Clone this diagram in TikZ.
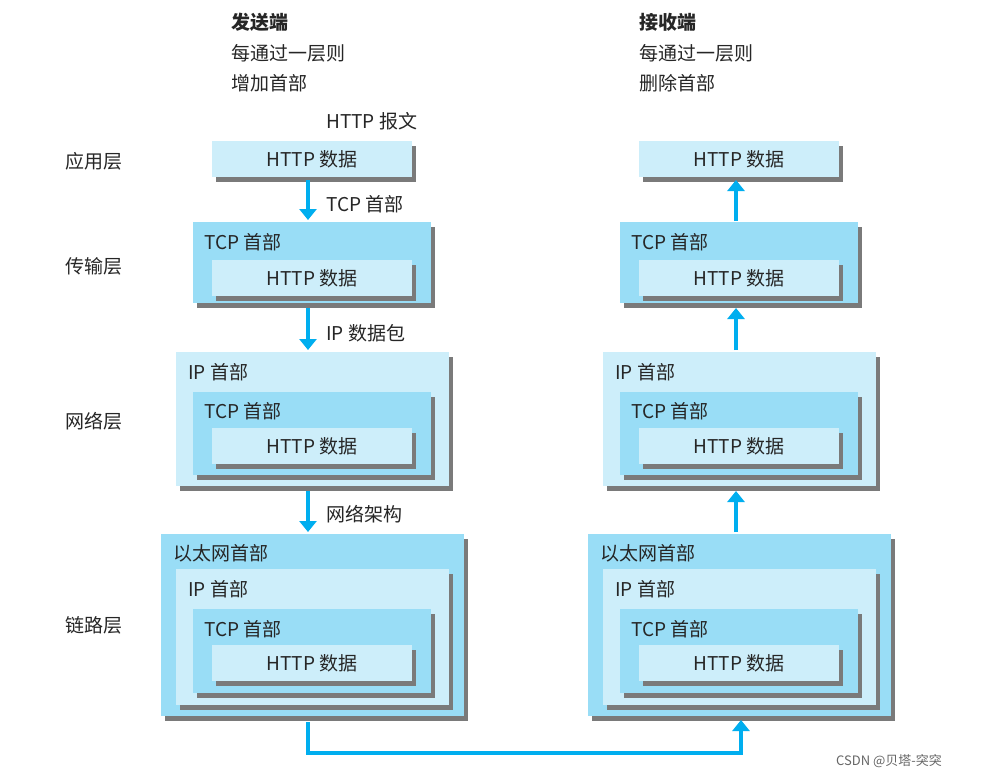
\documentclass[tikz,border=0pt]{standalone}
\usepackage{fontspec}
\setmainfont{Noto Sans CJK SC}
\usetikzlibrary{arrows.meta}
\definecolor{dk}{HTML}{99DDF6}
\definecolor{lt}{HTML}{CDEEFA}
\definecolor{ar}{HTML}{00AEEF}
\definecolor{sh}{HTML}{7A7A7A}
\newcommand{\bx}[6]{%
  \fill[sh] (#2+4,#3+5) rectangle (#4+4,#5+5);
  \fill[#6] (#2,#3) rectangle (#4,#5);
  \coordinate (#1) at (#2,#3);}
\begin{document}
\begin{tikzpicture}[x=1pt,y=-1pt,
  t/.style={font=\fontsize{19}{22}\selectfont,text=black!85,inner sep=0pt,anchor=west},
  arr/.style={ar,line width=4.5pt,-{Triangle[length=11pt,width=17pt]}}]
\useasboundingbox (0,0) rectangle (1005,780);
\fill[white] (0,0) rectangle (1005,780);
% titles
\node[t,font=\fontsize{19}{22}\selectfont\bfseries] (s1) at (231,22) {发送端};
\node[t] (s2) at (231,53) {每通过一层则};
\node[t] (s3) at (231,83) {增加首部};
\node[t,font=\fontsize{19}{22}\selectfont\bfseries] (r1) at (639,22) {接收端};
\node[t] (r2) at (639,53) {每通过一层则};
\node[t] (r3) at (639,83) {删除首部};
\node[t] (l1) at (65,161) {应用层};
\node[t] (l2) at (65,266) {传输层};
\node[t] (l3) at (65,421) {网络层};
\node[t] (l4) at (65,625) {链路层};
\node[t] (hb) at (326,121) {HTTP 报文};
\foreach \o/\s in {0/L,427/R}{
  % app
  \ifnum\o=0\relax\fi
  \bx{a\s}{212+\o}{141}{412+\o}{177}{lt}
  \node[t,anchor=center] (ah\s) at (312+\o,159) {HTTP 数据};
  % transport
  \bx{t\s}{193+\o}{222}{431+\o}{303}{dk}
  \node[t] (tt\s) at (204+\o,242) {TCP 首部};
  \bx{th\s}{212+\o}{260}{412+\o}{296}{lt}
  \node[t,anchor=center] (thh\s) at (312+\o,278) {HTTP 数据};
  % network
  \bx{n\s}{176+\o}{352}{449+\o}{486}{lt}
  \node[t] (ni\s) at (188+\o,372) {IP 首部};
  \bx{nt\s}{193+\o}{392}{431+\o}{475}{dk}
  \node[t] (ntt\s) at (204+\o,411) {TCP 首部};
  \bx{nh\s}{212+\o}{428}{412+\o}{464}{lt}
  \node[t,anchor=center] (nhh\s) at (312+\o,446) {HTTP 数据};
  % link
  \bx{k\s}{161+\o}{534}{464+\o}{716}{dk}
  \node[t] (ke\s) at (173+\o,553) {以太网首部};
  \bx{ki\s}{176+\o}{569}{449+\o}{705}{lt}
  \node[t] (kii\s) at (188+\o,589) {IP 首部};
  \bx{kt\s}{193+\o}{609}{431+\o}{693}{dk}
  \node[t] (ktt\s) at (204+\o,629) {TCP 首部};
  \bx{kh\s}{212+\o}{645}{412+\o}{681}{lt}
  \node[t,anchor=center] (khh\s) at (312+\o,663) {HTTP 数据};
}
% left arrows
\coordinate (p1) at (308,180); \coordinate (p2) at (308,220);
\coordinate (p3) at (308,308); \coordinate (p4) at (308,350);
\coordinate (p5) at (308,491); \coordinate (p6) at (308,532);
\draw[arr] (p1) -- (p2);
\draw[arr] (p3) -- (p4);
\draw[arr] (p5) -- (p6);
\node[t] (x1) at (326,204) {TCP 首部};
\node[t] (x2) at (326,333) {IP 数据包};
\node[t] (x3) at (326,514) {网络架构};
% right arrows
\coordinate (q1) at (736,221); \coordinate (q2) at (736,180);
\coordinate (q3) at (736,350); \coordinate (q4) at (736,308);
\coordinate (q5) at (736,532); \coordinate (q6) at (736,491);
\draw[arr] (q1) -- (q2);
\draw[arr] (q3) -- (q4);
\draw[arr] (q5) -- (q6);
% bottom connector
\coordinate (b1) at (308,722); \coordinate (b2) at (741,720);
\draw[arr] (b1) |- (741,753) -- (b2);
\node[t,font=\fontsize{13}{15}\selectfont,text=black!60] (wm) at (836,761) {CSDN @贝塔-突突};
\end{tikzpicture}
\end{document}
